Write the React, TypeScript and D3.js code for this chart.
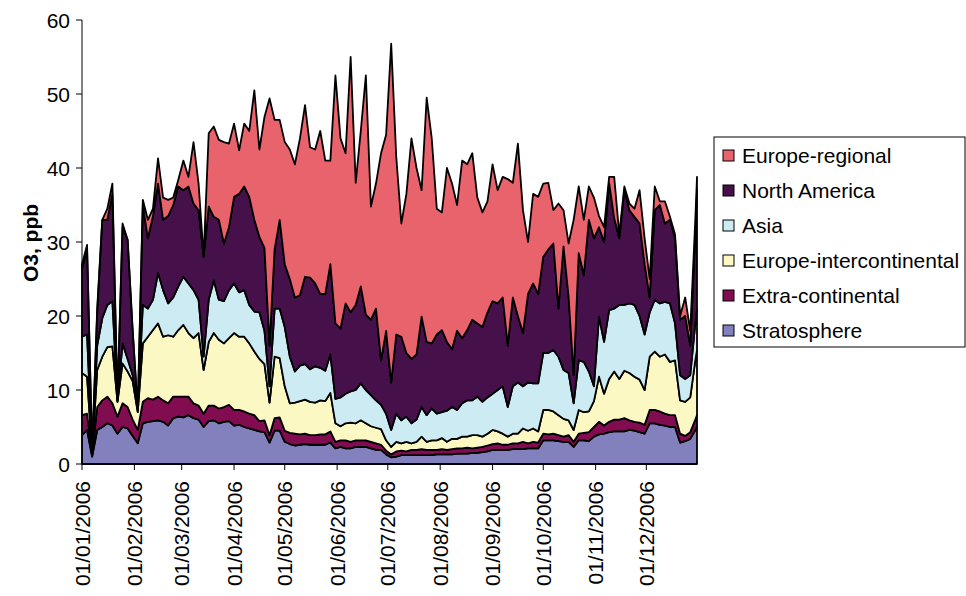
import React from 'react';
import * as d3 from 'd3';

// Day offsets from 01/01/2006 (sampled)
const dayOffsets = [
  0,3,6,9,12,15,18,21,24,27,30,33,36,39,42,45,48,51,54,57,
  60,63,66,69,72,75,78,81,84,87,90,93,96,99,102,105,108,111,114,117,
  120,123,126,129,132,135,138,141,144,147,150,153,156,159,162,165,168,171,174,177,
  180,183,186,189,192,195,198,201,204,207,210,213,216,219,222,225,228,231,234,237,
  240,243,246,249,252,255,258,261,264,267,270,273,276,279,282,285,288,291,294,297,
  300,303,306,309,312,315,318,321,324,327,330,333,336,339,342,345,348,351,354,357,
  360,363,364,
];

const stratosphere = [
  3.9,4.6,1.0,4.6,5.0,5.5,5.2,4.1,5.0,4.8,
  3.8,2.8,5.5,5.7,5.8,5.9,5.7,5.2,6.2,6.4,
  6.3,6.6,6.2,6.0,5.0,5.8,5.9,5.5,5.7,5.8,
  5.2,5.3,5.0,4.8,4.6,4.4,4.3,2.9,4.5,4.5,
  3.0,2.7,2.5,2.6,2.7,2.6,2.6,2.6,2.6,2.9,
  2.1,2.3,2.1,2.1,2.3,2.3,2.3,2.1,1.9,1.9,
  1.3,0.9,1.0,1.2,1.2,1.2,1.2,1.2,1.2,1.2,
  1.3,1.3,1.3,1.3,1.4,1.4,1.4,1.5,1.5,1.6,
  1.7,1.9,1.9,1.9,1.9,2.0,2.0,2.0,2.1,2.1,
  2.1,3.2,3.2,3.2,3.1,3.0,3.0,2.3,3.2,3.2,
  3.1,3.7,4.0,4.1,4.3,4.4,4.4,4.4,4.6,4.5,
  4.3,4.1,5.5,5.5,5.3,5.2,5.0,5.0,2.9,3.1,
  3.4,4.6,5.0,
];

const extraContinental = [
  2.7,2.2,0.3,3.1,3.6,3.6,3.0,2.3,3.2,2.9,
  2.2,1.8,2.9,3.2,2.9,3.2,2.9,3.0,2.9,2.7,
  2.8,2.5,2.0,1.9,1.8,2.1,2.0,2.0,2.0,2.2,
  2.1,2.0,2.1,2.0,2.0,1.4,1.6,1.0,1.7,1.8,
  1.5,1.5,1.6,1.4,1.4,1.3,1.3,1.4,1.4,1.5,
  0.9,0.9,1.1,0.9,0.9,0.9,0.9,0.9,0.9,0.7,
  0.5,0.4,0.7,0.6,0.5,0.7,0.7,0.8,0.7,0.7,
  0.6,0.7,0.6,0.7,0.7,0.7,0.8,0.6,0.7,0.7,
  0.8,0.8,0.9,0.7,0.7,0.8,0.8,1.0,0.7,0.9,
  0.8,0.9,0.8,0.9,0.8,0.7,0.9,0.7,0.9,1.0,
  1.2,1.3,1.7,1.1,1.4,1.6,1.6,1.8,1.3,1.2,
  1.3,1.2,1.8,1.8,1.8,1.6,1.6,1.6,1.2,0.7,
  0.9,1.4,1.6,
];

const europeIntercontinental = [
  5.7,5.0,0.2,5.0,5.9,6.7,7.7,2.0,5.4,4.8,
  5.2,2.4,7.9,8.3,9.4,9.9,8.6,9.2,8.1,9.0,
  9.7,8.6,8.8,9.8,5.9,8.6,9.8,9.3,8.6,9.0,
  10.4,9.9,10.1,9.5,8.6,8.4,7.6,4.4,8.3,8.0,
  6.0,4.0,4.2,4.5,4.6,4.5,4.4,4.6,4.5,5.2,
  2.5,1.9,2.3,2.6,2.3,2.7,2.3,2.1,2.1,2.1,
  1.4,1.0,1.3,1.0,1.3,0.9,1.1,1.7,1.1,1.3,
  1.3,1.5,1.1,1.4,1.3,1.6,1.5,1.8,1.7,1.4,
  1.6,1.9,1.6,1.5,1.1,1.3,1.3,1.8,1.7,1.8,
  1.5,3.2,3.3,3.0,2.7,2.4,2.0,1.6,3.2,2.8,
  2.8,3.5,6.1,4.3,5.8,6.5,5.5,6.4,6.4,6.1,
  5.8,4.7,7.2,7.9,7.4,8.0,7.2,7.4,4.5,4.6,
  4.7,8.0,8.8,
];

const asia = [
  4.9,5.7,0.2,3.3,5.2,5.7,6.1,0.2,2.7,1.7,
  0.8,0.3,5.2,3.8,4.1,6.8,6.3,4.3,5.3,5.9,
  6.5,6.7,6.5,4.5,1.8,5.7,7.1,5.4,5.7,6.5,
  6.7,6.0,6.3,5.2,5.4,6.3,4.5,2.2,6.5,6.7,
  8.0,6.3,4.2,4.8,4.8,4.4,4.9,4.4,4.1,5.2,
  3.3,3.9,4.0,4.2,4.5,5.0,4.5,4.2,3.7,3.3,
  3.6,2.3,3.8,3.1,3.4,2.7,3.0,4.0,3.6,4.3,
  3.6,3.5,4.2,4.3,3.9,4.5,4.9,4.7,5.2,4.7,
  4.9,4.9,5.6,6.4,4.0,6.4,6.9,5.7,6.5,6.1,
  6.5,7.7,7.7,8.3,7.9,6.6,6.4,3.6,6.7,6.8,
  5.4,2.0,8.1,7.0,9.3,8.5,10.0,8.9,9.4,9.7,
  8.6,7.5,6.0,7.0,7.2,7.1,7.9,5.0,3.4,3.1,
  3.0,5.0,5.4,
];

const northAmerica = [
  9.1,11.5,0.1,4.5,13.3,11.5,14.5,0.0,15.7,16.1,
  6.0,0.0,13.5,9.5,11.3,12.1,9.5,11.8,12.5,13.5,
  11.7,13.1,11.7,12.1,13.5,12.6,8.6,10.8,7.8,8.5,
  11.7,13.3,14.0,14.6,12.4,10.2,11.2,5.5,8.0,12.0,
  8.5,10.5,10.0,9.5,11.8,12.4,11.2,10.0,10.4,12.2,
  10.2,9.3,12.2,10.7,11.5,13.1,10.2,10.2,12.4,6.0,
  11.2,6.4,10.7,11.3,8.6,8.7,8.8,12.2,9.9,8.8,
  10.7,11.1,9.3,7.8,10.7,8.8,9.5,10.9,9.9,10.1,
  11.5,12.5,11.7,12.0,8.3,12.0,9.0,7.2,12.0,13.5,
  12.1,13.0,14.0,14.4,6.5,16.7,10.3,3.8,14.5,11.7,
  20.5,20.0,12.1,13.5,17.2,12.2,9.0,15.5,12.6,11.9,
  12.5,9.5,2.0,12.1,13.3,10.6,11.3,11.5,7.5,8.5,
  4.0,12.0,16.2,
];

const europeRegional = [
  0.7,0.6,0.0,0.5,0.0,1.5,1.4,0.0,0.5,0.0,
  0.0,0.0,0.7,2.5,1.0,3.4,3.0,2.2,1.0,0.9,
  4.0,1.3,8.3,3.6,0.0,9.9,12.2,10.8,13.7,11.3,
  9.9,5.9,8.5,8.9,17.5,11.8,17.7,33.4,17.5,13.5,
  16.5,17.5,18.0,21.2,23.2,17.6,18.1,22.0,18.0,14.0,
  33.5,25.7,20.3,34.5,16.5,21.0,32.3,15.3,16.9,28.0,
  26.5,45.8,24.0,15.3,21.5,29.8,25.2,17.1,33.0,27.7,
  17.0,15.9,23.5,22.4,17.0,24.0,22.4,22.5,17.0,15.5,
  15.0,18.5,15.3,16.3,22.5,15.5,23.3,16.6,7.0,12.1,
  13.1,9.9,9.0,4.5,14.2,4.9,7.2,21.0,9.0,7.5,
  4.5,5.5,1.5,2.0,0.8,5.6,0.5,0.5,0.9,1.1,
  4.5,3.5,2.5,3.2,0.5,3.0,0.4,0.5,0.5,2.5,
  2.0,2.0,1.8,
];

// stacking order: bottom -> top
const seriesNames = [
  'Stratosphere',
  'Extra-continental',
  'Europe-intercontinental',
  'Asia',
  'North America',
  'Europe-regional',
];
const seriesValues = [stratosphere, extraContinental, europeIntercontinental, asia, northAmerica, europeRegional];
const seriesColors = ['#8380BE', '#810D50', '#FCF8C4', '#CDEBF2', '#46104A', '#E8636B'];

const yTicks = [0, 10, 20, 30, 40, 50, 60];
const legendOrder = ['Europe-regional', 'North America', 'Asia', 'Europe-intercontinental', 'Extra-continental', 'Stratosphere'];

const FONT = '"Liberation Sans", Arial, Helvetica, sans-serif';

export default function App() {
  const W = 966, H = 596;
  const left = 82, right = 697, top = 20, bottom = 464;
  const start = Date.UTC(2006, 0, 1);
  const dates = dayOffsets.map((d) => new Date(start + d * 86400000));
  const x = d3.scaleUtc()
    .domain([new Date(Date.UTC(2006, 0, 1)), new Date(Date.UTC(2006, 11, 31))])
    .range([left, right]);
  const y = d3.scaleLinear().domain([0, 60]).range([bottom, top]);

  const rows = dates.map((date, i) => {
    const r: any = { date };
    seriesNames.forEach((k, j) => { r[k] = seriesValues[j][i]; });
    return r;
  });
  const layers = d3.stack<any>().keys(seriesNames)(rows);
  const area = d3.area<any>()
    .x((d) => x(d.data.date))
    .y0((d) => y(d[0]))
    .y1((d) => y(d[1]));

  const monthTicks = d3.utcMonth.range(new Date(Date.UTC(2006, 0, 1)), new Date(Date.UTC(2007, 0, 1)));
  const fmt = d3.utcFormat('%d/%m/%Y');

  const legendRowY = (i: number) => 155 + i * 35;

  return (
    <svg width={W} height={H} style={{ position: 'absolute', left: 0, top: 0, background: '#fff' }} fontFamily={FONT}>
      <rect x={0} y={0} width={W} height={H} fill="#fff" />
      {layers.map((layer, i) => (
        <path key={seriesNames[i]} d={area(layer as any) || ''} fill={seriesColors[i]} stroke="#000" strokeWidth={1.8} strokeLinejoin="round" />
      ))}
      {/* Y axis */}
      <line x1={left} y1={top} x2={left} y2={bottom} stroke="#000" strokeWidth={1} />
      {yTicks.map((t) => (
        <g key={t}>
          <line x1={left - 6} x2={left} y1={y(t)} y2={y(t)} stroke="#000" strokeWidth={1} />
          <text x={left - 12} y={y(t)} dy="0.36em" textAnchor="end" fontSize={21} fill="#000">{t}</text>
        </g>
      ))}
      <text transform={`translate(38,243) rotate(-90)`} textAnchor="middle" fontSize={21} fontWeight="bold" fill="#000">O3, ppb</text>
      {/* X axis */}
      <line x1={left} y1={bottom} x2={right} y2={bottom} stroke="#000" strokeWidth={1} />
      {monthTicks.map((m) => (
        <g key={m.toISOString()}>
          <line x1={x(m)} x2={x(m)} y1={bottom} y2={bottom + 6} stroke="#000" strokeWidth={1} />
          <text transform={`translate(${x(m)},${bottom + 17}) rotate(-90)`} dy="0.36em" textAnchor="end" fontSize={21} fill="#000">{fmt(m)}</text>
        </g>
      ))}
      {/* Legend */}
      <rect x={714} y={137} width={251} height={210} fill="#fff" stroke="#000" strokeWidth={1} />
      {legendOrder.map((name, i) => {
        const idx = seriesNames.indexOf(name);
        const cy = legendRowY(i);
        return (
          <g key={name}>
            <rect x={723} y={cy - 5} width={11} height={11} fill={seriesColors[idx]} stroke="#000" strokeWidth={1} />
            <text x={742} y={cy} dy="0.36em" fontSize={21} fill="#000">{name}</text>
          </g>
        );
      })}
    </svg>
  );
}
